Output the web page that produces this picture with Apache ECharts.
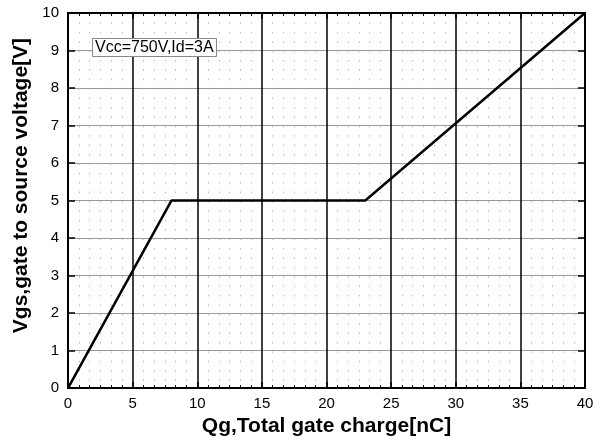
<!DOCTYPE html>
<html><head><meta charset="utf-8">
<script src="https://cdn.jsdelivr.net/npm/echarts@6/dist/echarts.min.js"></script>
<style>html,body{margin:0;padding:0;background:#fff}#c{width:611px;height:442px}</style>
</head><body><div id="c"></div>
<script>
const qg = [0, 8, 23, 40];
const vgs = [0, 5, 5, 10];
const annotation = 'Vcc=750V,Id=3A';
const xName = 'Qg,Total gate charge[nC]';
const yName = 'Vgs,gate to source voltage[V]';

const FONT = '"Liberation Sans", Arial, sans-serif';
const chart = echarts.init(document.getElementById('c'));
const baseX = {
  type: 'value', min: 0, max: 40, interval: 5,
  axisLine: {show: true, onZero: false, lineStyle: {color: '#000', width: 2}},
  axisTick: {show: true, inside: true, length: 6, lineStyle: {color: '#000', width: 1.5}},
  minorTick: {show: true, splitNumber: 6, length: 3, lineStyle: {color: '#000', width: 1}},
};
const baseY = {
  type: 'value', min: 0, max: 10, interval: 1,
  axisLine: {show: true, onZero: false, lineStyle: {color: '#000', width: 2}},
  axisTick: {show: true, inside: true, length: 7, lineStyle: {color: '#000', width: 1.5}},
};
chart.setOption({
  animation: false,
  backgroundColor: '#fff',
  grid: {left: 68, right: 26, top: 13, bottom: 53},
  title: {
    text: annotation, left: 92, top: 38,
    borderColor: '#888', borderWidth: 1, backgroundColor: '#fff',
    padding: [2, 3, 1, 3],
    textStyle: {fontFamily: FONT, fontSize: 16, fontWeight: 'normal', color: '#000'}
  },
  xAxis: [
    Object.assign({}, baseX, {
      position: 'bottom',
      name: xName, nameLocation: 'middle', nameGap: 25,
      nameTextStyle: {fontFamily: FONT, fontSize: 21, fontWeight: 'bold', color: '#000'},
      axisLabel: {fontFamily: FONT, fontSize: 15, color: '#000', margin: 8},
      splitLine: {show: true, lineStyle: {color: '#000', width: 1.5}},
      minorSplitLine: {show: true, lineStyle: {color: '#bbb', width: 1, type: [1.5, 7.9]}}
    }),
    Object.assign({}, baseX, {
      position: 'top', axisLabel: {show: false}, splitLine: {show: false}
    })
  ],
  yAxis: [
    Object.assign({}, baseY, {
      position: 'left',
      name: yName, nameLocation: 'middle', nameGap: 35,
      nameTextStyle: {fontFamily: FONT, fontSize: 21, fontWeight: 'bold', color: '#000', padding: [0, 0, 0, 30]},
      axisLabel: {fontFamily: FONT, fontSize: 15, color: '#000', margin: 9},
      splitLine: {show: true, lineStyle: {color: '#999', width: 1.2}}
    }),
    Object.assign({}, baseY, {
      position: 'right', axisLabel: {show: false}, splitLine: {show: false}
    })
  ],
  series: [{
    type: 'line', xAxisIndex: 0, yAxisIndex: 0,
    data: qg.map((x, i) => [x, vgs[i]]),
    showSymbol: false, symbol: 'none',
    lineStyle: {color: '#000', width: 2.5},
    z: 5
  }]
});
</script></body></html>
